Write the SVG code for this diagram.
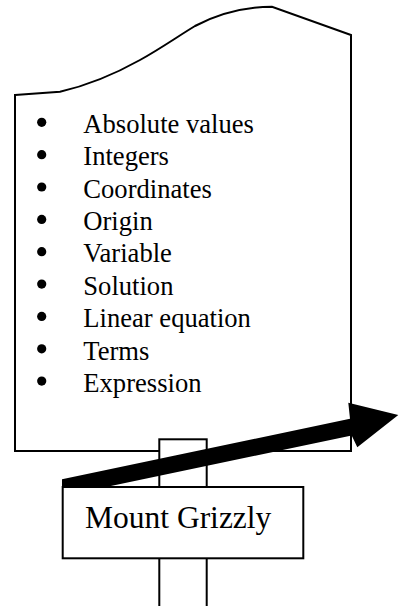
<svg xmlns="http://www.w3.org/2000/svg" width="406" height="606" viewBox="0 0 406 606">
<style>
.ln{fill:#fff;stroke:#000;stroke-width:2}
.t{font-family:"Liberation Serif","Times New Roman",serif;font-size:26.6px;fill:#000}
.b{fill:#000}
</style>
<rect width="406" height="606" fill="#fff"/>
<g id="board">
<path class="ln" d="M15,95 L60,91.7 C85,86 115,74 140,60 C160,49 180,35 195,26 C220,13 245,7 272,6.7 L351,35 L351,451 L15,451 Z"/>
<g id="list">
<circle class="b" cx="41.7" cy="122.3" r="4.6"/><text class="t" x="83.3" y="133">Absolute values</text>
<circle class="b" cx="41.7" cy="154.7" r="4.6"/><text class="t" x="83.3" y="165.4">Integers</text>
<circle class="b" cx="41.7" cy="187" r="4.6"/><text class="t" x="83.3" y="197.7">Coordinates</text>
<circle class="b" cx="41.7" cy="219.4" r="4.6"/><text class="t" x="83.3" y="230.1">Origin</text>
<circle class="b" cx="41.7" cy="251.7" r="4.6"/><text class="t" x="83.3" y="262.4">Variable</text>
<circle class="b" cx="41.7" cy="284.1" r="4.6"/><text class="t" x="83.3" y="294.8">Solution</text>
<circle class="b" cx="41.7" cy="316.4" r="4.6"/><text class="t" x="83.3" y="327.1">Linear equation</text>
<circle class="b" cx="41.7" cy="348.8" r="4.6"/><text class="t" x="83.3" y="359.5">Terms</text>
<circle class="b" cx="41.7" cy="381.1" r="4.6"/><text class="t" x="83.3" y="391.8">Expression</text>
</g>
</g>
<g id="pole">
<rect class="ln" x="159.3" y="439.3" width="47.4" height="190"/>
</g>
<g id="connectors">
<polygon fill="#000" points="62,479.3 350,418.8 348.3,402.7 398.3,415 357.3,447.3 351.7,435.5 62,496.3"/>
</g>
<g id="sign">
<rect class="ln" x="62.7" y="487" width="240.6" height="71.3"/>
<text x="85" y="527.7" style="font-family:'Liberation Serif','Times New Roman',serif;font-size:31.5px">Mount Grizzly</text>
</g>
</svg>
